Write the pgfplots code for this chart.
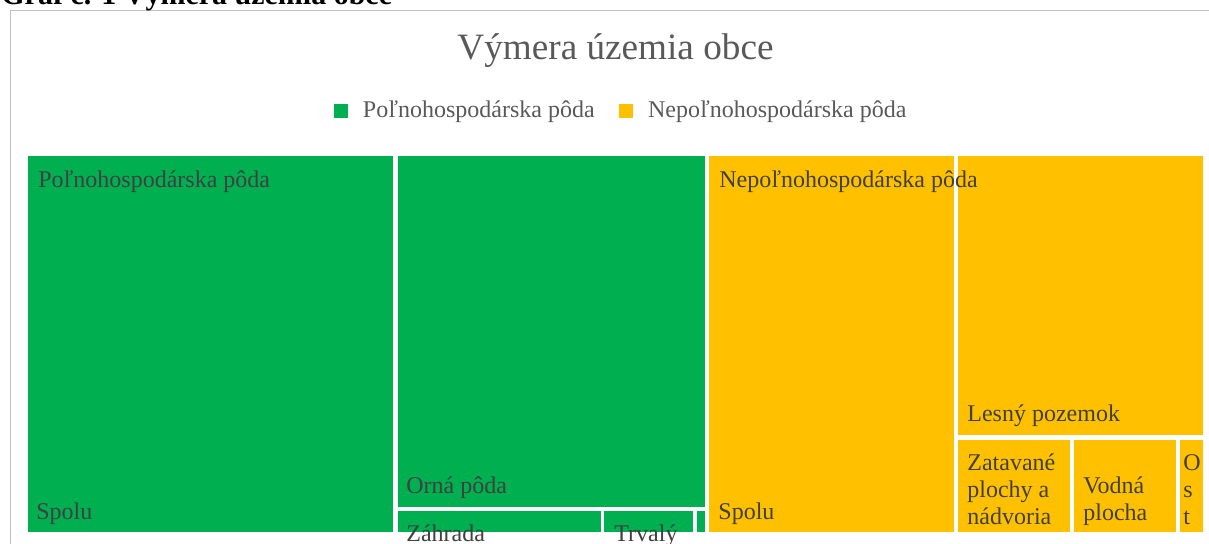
\documentclass[border=0pt]{standalone}
\usepackage{pgfplots}
\pgfplotsset{compat=1.18}
\usepackage{fontspec}
\setmainfont{Liberation Serif}

\definecolor{tmgreen}{HTML}{00B050}
\definecolor{tmyellow}{HTML}{FFC000}
\definecolor{lbl}{HTML}{404040}
\definecolor{ttl}{HTML}{595959}
\definecolor{frm}{HTML}{BFBFBF}

\begin{document}
\begin{tikzpicture}
	% page = the 1209 x 543 reference, 1 px = 0.5pt
	\useasboundingbox (0,0) rectangle (604.5pt,271.5pt);
	\clip (0,0) rectangle (604.5pt,271.5pt);
	\begin{axis}[
		at={(0,0)}, anchor=south west,
		scale only axis, width=604.5pt, height=271.5pt,
		xmin=0, xmax=1209, ymin=0, ymax=543,
		hide axis,
		legend columns=2,
		legend style={
			at={(0.5145,0.7956)}, anchor=center,
			draw=none, fill=none,
			font=\fontsize{12}{14}\selectfont\color{ttl},
			/tikz/every odd column/.append style={column sep=5.5pt},
			/tikz/every even column/.append style={column sep=10pt},
		},
		legend image code/.code={
			\fill[#1] (0pt,-3.6pt) rectangle (7.2pt,3.6pt);
		},
	]
		\addlegendimage{fill=tmgreen, draw=none}
		\addlegendentry{Poľnohospodárska pôda}
		\addlegendimage{fill=tmyellow, draw=none}
		\addlegendentry{Nepoľnohospodárska pôda}

		% outer frame of the chart
		\addplot[forget plot, draw=frm, line width=0.8pt]
			coordinates {(10.5,-5)(10.5,532.5)(1220,532.5)};

		% Polnohospodarska poda
		\addplot[forget plot, fill=tmgreen, draw=none]
			coordinates {(28,11)(393,11)(393,387)(28,387)} -- cycle;
		\addplot[forget plot, fill=tmgreen, draw=none]
			coordinates {(398,36)(705,36)(705,387)(398,387)} -- cycle;
		\addplot[forget plot, fill=tmgreen, draw=none]
			coordinates {(398,11)(601,11)(601,32)(398,32)} -- cycle;
		\addplot[forget plot, fill=tmgreen, draw=none]
			coordinates {(604,11)(693,11)(693,32)(604,32)} -- cycle;
		\addplot[forget plot, fill=tmgreen, draw=none]
			coordinates {(697,11)(705,11)(705,32)(697,32)} -- cycle;

		% Nepolnohospodarska poda
		\addplot[forget plot, fill=tmyellow, draw=none]
			coordinates {(709,11)(954,11)(954,387)(709,387)} -- cycle;
		\addplot[forget plot, fill=tmyellow, draw=none]
			coordinates {(958,108)(1203,108)(1203,387)(958,387)} -- cycle;
		\addplot[forget plot, fill=tmyellow, draw=none]
			coordinates {(958,11)(1070,11)(1070,103)(958,103)} -- cycle;
		\addplot[forget plot, fill=tmyellow, draw=none]
			coordinates {(1074,11)(1176,11)(1176,103)(1074,103)} -- cycle;
		\addplot[forget plot, fill=tmyellow, draw=none]
			coordinates {(1180,11)(1203,11)(1203,103)(1180,103)} -- cycle;

		% headings
		\node[anchor=base west, inner sep=0pt, font=\fontsize{15}{18}\selectfont\bfseries]
			at (axis cs:1,539) {Graf č. 1 Výmera územia obce};
		\node[anchor=base, inner sep=0pt, text=ttl, font=\fontsize{18.6}{22}\selectfont]
			at (axis cs:615.5,484) {Výmera územia obce};

		% tile labels
		\begin{scope}[every node/.style={anchor=base west, inner sep=0pt, text=lbl,
				font=\fontsize{12}{14}\selectfont}]
			\node at (axis cs:38,356) {Poľnohospodárska pôda};
			\node at (axis cs:36,24) {Spolu};
			\node at (axis cs:406,50) {Orná pôda};
			\node at (axis cs:406,2) {Záhrada};
			\node at (axis cs:614,2) {Trvalý};
			\node at (axis cs:719,356) {Nepoľnohospodárska pôda};
			\node at (axis cs:718,24) {Spolu};
			\node at (axis cs:967,122) {Lesný pozemok};
			\node at (axis cs:967,73) {Zatavané};
			\node at (axis cs:967,46) {plochy a};
			\node at (axis cs:967,19) {nádvoria};
			\node at (axis cs:1083,50) {Vodná};
			\node at (axis cs:1083,23) {plocha};
			\node at (axis cs:1183,73) {O};
			\node at (axis cs:1183,46) {s};
			\node at (axis cs:1183,19) {t};
		\end{scope}
	\end{axis}
\end{tikzpicture}
\end{document}
